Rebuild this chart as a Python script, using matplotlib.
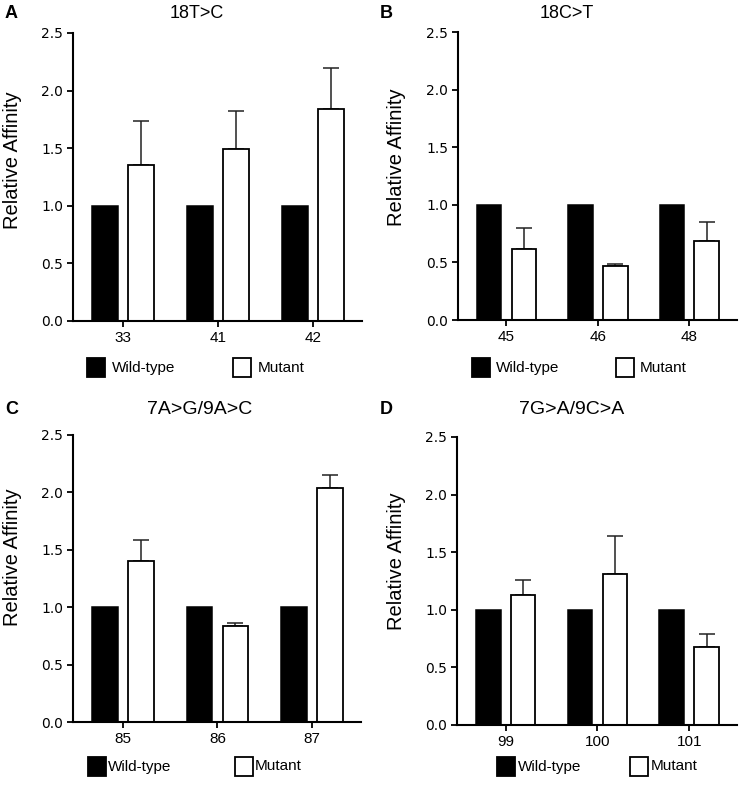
import matplotlib
matplotlib.use('Agg')
import matplotlib.pyplot as plt
from matplotlib.patches import Rectangle
import numpy as np

plt.rcParams['font.family'] = ['Liberation Sans', 'DejaVu Sans']

# ----------------------------------------------------------------------
# Data (wild-type normalised to 1.0)
# ----------------------------------------------------------------------
panel_letters = ['A', 'B', 'C', 'D']
titles = ['18T>C', '18C>T', '7A>G/9A>C', '7G>A/9C>A']
categories = [['33', '41', '42'],
              ['45', '46', '48'],
              ['85', '86', '87'],
              ['99', '100', '101']]
wild_type = [[1.0, 1.0, 1.0],
             [1.0, 1.0, 1.0],
             [1.0, 1.0, 1.0],
             [1.0, 1.0, 1.0]]
mutant = [[1.35, 1.49, 1.84],
          [0.62, 0.47, 0.69],
          [1.405, 0.84, 2.035],
          [1.13, 1.315, 0.68]]
mutant_err = [[0.39, 0.33, 0.36],
              [0.18, 0.015, 0.16],
              [0.18, 0.02, 0.12],
              [0.13, 0.325, 0.11]]
legend_labels = ['Wild-type', 'Mutant']

W, H = 750, 788
fig = plt.figure(figsize=(W / 100, H / 100), dpi=100)


def fx(x):
    return x / W


def fy(y):
    return 1 - y / H


# axes boxes in pixels: left, top, right, bottom
boxes = [(73, 33, 362, 321),
         (458, 32, 737, 320),
         (73, 435, 361, 722),
         (457, 437, 737, 725)]
letter_pos = [(5, 14), (380, 14), (5, 409), (380, 409)]
title_pos = [(197, 14), (567, 14), (200, 409), (572, 409)]
ylabel_pos = [(13, 160), (396, 157), (13, 557), (396, 561)]
# (black square x, white square x, square top y, text gap)
legend_pos = [(87, 233, 358, 7), (472, 616, 358, 6),
              (88, 235, 757, 2), (497, 630, 757, 3)]

for k in range(4):
    l, t, r, b = boxes[k]
    ax = fig.add_axes([fx(l), fy(b), (r - l) / W, (b - t) / H])
    x = np.arange(len(categories[k]))
    ax.bar(x - 0.19, wild_type[k], width=0.27, color='black',
           edgecolor='black', linewidth=1.1, zorder=2)
    ax.bar(x + 0.19, mutant[k], width=0.27, color='white',
           edgecolor='black', linewidth=1.3, zorder=2)
    ax.errorbar(x + 0.19, mutant[k], yerr=[np.zeros(3), mutant_err[k]],
                fmt='none', ecolor='#222222', elinewidth=1.1,
                capsize=5.5, capthick=1.1, zorder=1)
    ax.set_xlim(-0.53, 2.52)
    ax.set_ylim(0, 2.5)
    ax.set_yticks([0, 0.5, 1.0, 1.5, 2.0, 2.5])
    ax.set_yticklabels(['0.0', '0.5', '1.0', '1.5', '2.0', '2.5'],
                       family='DejaVu Sans', fontsize=10)
    ax.set_xticks(x)
    ax.set_xticklabels(categories[k], fontsize=11)
    for s in ['top', 'right']:
        ax.spines[s].set_visible(False)
    for s in ['left', 'bottom']:
        ax.spines[s].set_linewidth(1.5)
    ax.tick_params(axis='both', width=1.3, length=4, pad=3)

    fig.text(fx(letter_pos[k][0]), fy(letter_pos[k][1]), panel_letters[k],
             fontsize=13, fontweight='bold', ha='left', va='center')
    fig.text(fx(title_pos[k][0]), fy(title_pos[k][1]), titles[k],
             fontsize=13 if k < 2 else 14, ha='center', va='center')
    fig.text(fx(ylabel_pos[k][0]), fy(ylabel_pos[k][1]), 'Relative Affinity',
             fontsize=14.5, rotation=90, ha='center', va='center')

    # legend drawn below each panel
    bx, wx, sy, gap = legend_pos[k]
    sq_w, sq_h = 18, 19
    for sx, fc, lab in [(bx, 'black', legend_labels[0]),
                        (wx, 'white', legend_labels[1])]:
        fig.patches.append(Rectangle((fx(sx), fy(sy + sq_h)), sq_w / W, sq_h / H,
                                     transform=fig.transFigure, facecolor=fc,
                                     edgecolor='black', linewidth=1.3))
        fig.text(fx(sx + sq_w + gap), fy(sy + sq_h / 2), lab, fontsize=11,
                 ha='left', va='center')

fig.savefig('out.png', dpi=100)
